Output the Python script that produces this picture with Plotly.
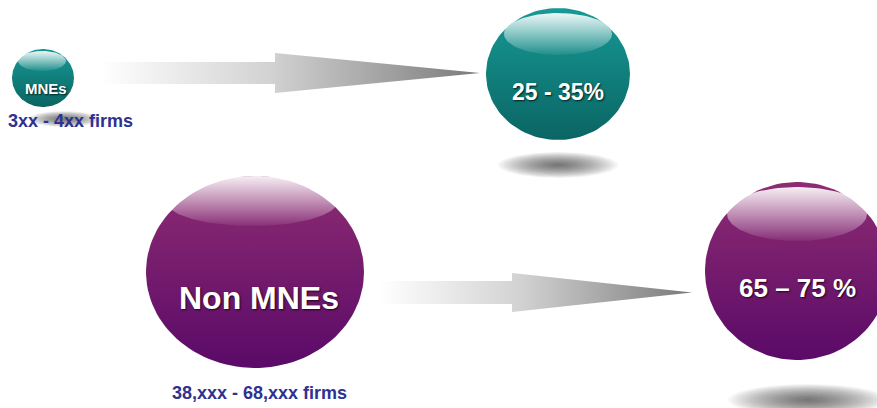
import numpy as np
import plotly.graph_objects as go

# ---- content ----
groups = ["MNEs", "Non MNEs"]
firm_counts = ["3xx - 4xx firms", "38,xxx - 68,xxx firms"]
shares = ["25 - 35%", "65 – 75 %"]

# ---- layout config (pixel space) ----
W, H = 877, 408
teal = ["#179995", "#0a6563"]
purple = ["#8e2c72", "#5a0a68"]
src_spheres = [dict(cx=43, cy=78, rx=31, ry=29, col=teal, hl=(42, 61, 24, 10), fs=15, dy=10, tx=46),
               dict(cx=255, cy=272, rx=109, ry=96, col=purple, hl=(252, 201, 86, 25), fs=32, dy=26, tx=259)]
dst_spheres = [dict(cx=558, cy=74, rx=72, ry=66, col=teal, hl=(558, 34, 54, 21), fs=23, dy=18, tx=558),
               dict(cx=797, cy=271, rx=92, ry=89, col=purple, hl=(797, 214, 70, 27), fs=26, dy=17, tx=797)]
shadows = [(64, 119, 36, 8), (558, 165, 60, 13), (808, 400, 80, 16)]
arrows = [dict(x0=100, xb=275, xt=480, yc=73, sh=11, hh=20),
          dict(x0=380, xb=512, xt=692, yc=292.5, sh=11.5, hh=19.5)]
count_pos = [(70, 121, 18), (259, 393, 18)]

fig = go.Figure()


def ellipse(cx, cy, rx, ry, n=120):
    t = np.linspace(0, 2 * np.pi, n)
    return cx + rx * np.cos(t), cy + ry * np.sin(t)


def add_poly(x, y, grad=None, color=None):
    kw = dict(fillgradient=grad) if grad else dict(fillcolor=color)
    fig.add_trace(go.Scatter(x=list(x), y=list(y), mode="lines", fill="toself",
                             line=dict(width=0), hoverinfo="skip", showlegend=False, **kw))


# soft shadows (stacked translucent ellipses)
for cx, cy, rx, ry in shadows:
    n_layers = 22
    for k in range(n_layers):
        f = 1 - k / n_layers
        x, y = ellipse(cx, cy, rx * f, ry * f)
        add_poly(x, y, color="rgba(50,50,50,0.042)")

# arrows
for a in arrows:
    xs = [a["x0"], a["xb"], a["xb"], a["xt"], a["xb"], a["xb"], a["x0"], a["x0"]]
    ys = [a["yc"] - a["sh"], a["yc"] - a["sh"], a["yc"] - a["hh"], a["yc"],
          a["yc"] + a["hh"], a["yc"] + a["sh"], a["yc"] + a["sh"], a["yc"] - a["sh"]]
    add_poly(xs, ys, grad=dict(type="horizontal", start=a["x0"], stop=a["xt"],
                               colorscale=[[0, "rgba(255,255,255,1)"], [0.45, "#d2d2d2"],
                                           [1, "#7a7a7a"]]))

# spheres
for s in src_spheres + dst_spheres:
    x, y = ellipse(s["cx"], s["cy"], s["rx"], s["ry"])
    add_poly(x, y, grad=dict(type="vertical", start=s["cy"] - s["ry"], stop=s["cy"] + s["ry"],
                             colorscale=[[0, s["col"][0]], [1, s["col"][1]]]))
    hx, hy, hrx, hry = s["hl"]
    x, y = ellipse(hx, hy, hrx, hry)
    add_poly(x, y, grad=dict(type="vertical", start=hy - hry, stop=hy + hry,
                             colorscale=[[0, "rgba(255,255,255,0.92)"], [1, "rgba(255,255,255,0.06)"]]))

shadow_txt = "1px 1px 2px rgba(0,0,0,0.75)"
ann = []
for s, g in zip(src_spheres, groups):
    ann.append(dict(x=s["tx"], y=s["cy"] + s["dy"], text=g,
                    showarrow=False, xref="x", yref="y",
                    font=dict(family="Liberation Sans, Arial", size=s["fs"], color="white",
                              weight="bold", shadow=shadow_txt)))
for s, t in zip(dst_spheres, shares):
    ann.append(dict(x=s["tx"], y=s["cy"] + s["dy"], text=t, showarrow=False, xref="x", yref="y",
                    font=dict(family="Liberation Sans, Arial", size=s["fs"], color="white",
                              weight="bold", shadow=shadow_txt)))
for (x, y, fs), t in zip(count_pos, firm_counts):
    ann.append(dict(x=x, y=y, text=t, showarrow=False, xref="x", yref="y",
                    font=dict(family="Liberation Sans, Arial", size=fs, color="#2e3190",
                              weight="bold")))

fig.update_layout(width=W, height=H, margin=dict(l=0, r=0, t=0, b=0),
                  paper_bgcolor="white", plot_bgcolor="white", annotations=ann,
                  xaxis=dict(range=[0, W], visible=False, fixedrange=True),
                  yaxis=dict(range=[H, 0], visible=False, fixedrange=True))
fig.write_html("out.html", config=dict(displayModeBar=False),
               post_script="document.body.style.margin='0';document.body.style.overflow='hidden';")
